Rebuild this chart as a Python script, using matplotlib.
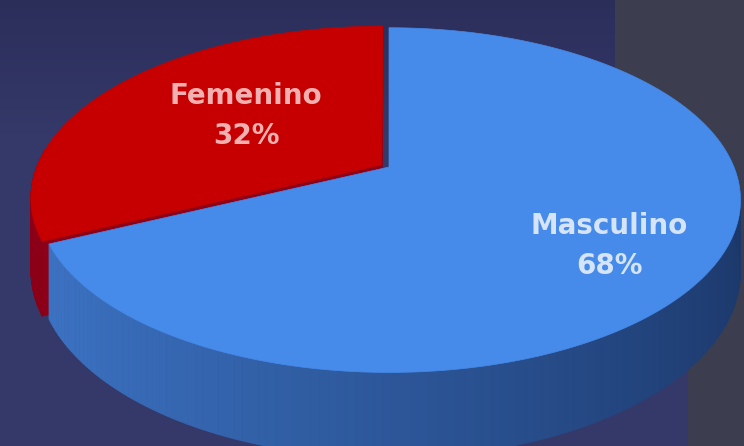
import numpy as np
import matplotlib
matplotlib.use("Agg")
import matplotlib.pyplot as plt
from matplotlib.patches import Polygon
from matplotlib.collections import PolyCollection

# Data
labels = ["Femenino", "Masculino"]
shares = [32, 68]

# Styles
top_colors = ["#c60000", "#468aea"]
wall_light = [(0.55, 0.0, 0.09), (0.24, 0.46, 0.78)]
wall_dark = [(0.38, 0.0, 0.06), (0.11, 0.22, 0.42)]
cut_colors = ["#8e0018", "#3066b0"]
text_colors = ["#f3b0b0", "#d5e4f8"]
explode = [0.025, 0.0]
label_pos = [(246, 116), (609, 246)]

# Pie geometry (pixel space of the figure)
W, H = 744, 446
CX, CY = 389, 167
SX, SY = 345, 166
PERSP = 0.192
DEPTH = 69


def proj(X, Y, z, off):
    X = X + off[0]
    Y = Y + off[1]
    d = 1 + PERSP * Y
    return CX + SX * X / d, CY - SY * Y / d + DEPTH * z / d


def cut_face(t, off):
    r = np.radians(t)
    a0 = proj(0, 0, 0, off)
    a1 = proj(0, 0, 1, off)
    e0 = proj(np.cos(r), np.sin(r), 0, off)
    e1 = proj(np.cos(r), np.sin(r), 1, off)
    return [a0, e0, e1, a1]


fig = plt.figure(figsize=(W / 100, H / 100), dpi=100)
ax = fig.add_axes([0, 0, 1, 1])
ax.set_xlim(0, W)
ax.set_ylim(H, 0)
ax.axis("off")

# background: navy panel, grey panel on the right
yy = np.linspace(0, 1, H)[:, None]
top = np.array([44, 46, 90]) / 255
mid = np.array([52, 57, 105]) / 255
shade = np.clip(yy / 0.3, 0, 1)
bg = np.repeat((top[None, :] * (1 - shade) + mid[None, :] * shade)[:, None, :], W, axis=1)
xs = np.arange(W)[None, :]
ys = np.arange(H)[:, None]
grey = ((xs >= 615) & (ys < 200)) | ((xs >= 688) & (ys >= 200))
bg[grey] = np.array([60, 62, 80]) / 255
ax.imshow(bg, extent=(0, W, H, 0), aspect="auto", zorder=0)

# slice angles, counter-clockwise from 12 o'clock
bounds = 90 + 360 * np.concatenate([[0], np.cumsum(shares)]) / sum(shares)
slices = []
for i in range(len(shares)):
    t0, t1 = bounds[i], bounds[i + 1]
    mid_a = np.radians((t0 + t1) / 2)
    off = (explode[i] * np.cos(mid_a), explode[i] * np.sin(mid_a))
    slices.append((t0, t1, off))

z = 1
for i, (t0, t1, off) in enumerate(slices):
    # the cut faces only show where a slice is pulled out
    if explode[i] > 0:
        for t in (t0, t1):
            ax.add_patch(Polygon(cut_face(t, off), closed=True, facecolor=cut_colors[i],
                                 edgecolor=cut_colors[i], linewidth=0.5, zorder=z))
    ts = np.linspace(t0, t1, 200)
    tr = np.radians(ts)
    X, Y = np.cos(tr), np.sin(tr)
    tx, ty = proj(X, Y, 0, off)
    bx, by = proj(X, Y, 1, off)
    # outer wall, shaded from left (light) to right (dark)
    quads, cols = [], []
    for j in range(len(ts) - 1):
        if np.sin(tr[j]) > 0.1:
            continue
        f = (1 + np.cos(tr[j])) / 2
        c = np.array(wall_light[i]) * (1 - f) + np.array(wall_dark[i]) * f
        quads.append([(tx[j], ty[j]), (tx[j + 1], ty[j + 1]),
                      (bx[j + 1], by[j + 1]), (bx[j], by[j])])
        cols.append(c)
    if quads:
        ax.add_collection(PolyCollection(quads, facecolors=cols, edgecolors=cols,
                                         linewidths=0.6, zorder=z + 1))
    z += 2

for i, (t0, t1, off) in enumerate(slices):
    tr = np.radians(np.linspace(t0, t1, 200))
    tx, ty = proj(np.cos(tr), np.sin(tr), 0, off)
    ax0, ay0 = proj(0, 0, 0, off)
    pts = [(ax0, ay0)] + list(zip(tx, ty))
    ax.add_patch(Polygon(pts, closed=True, facecolor=top_colors[i],
                         edgecolor=top_colors[i], linewidth=0.5, zorder=10 + i))

for i, lab in enumerate(labels):
    x, y = label_pos[i]
    ax.text(x, y, f"{lab}\n{shares[i]}%", ha="center", va="center",
            fontsize=20, fontweight="bold", color=text_colors[i],
            family="DejaVu Sans", linespacing=1.5, zorder=20)

fig.savefig("out.png", dpi=100)
